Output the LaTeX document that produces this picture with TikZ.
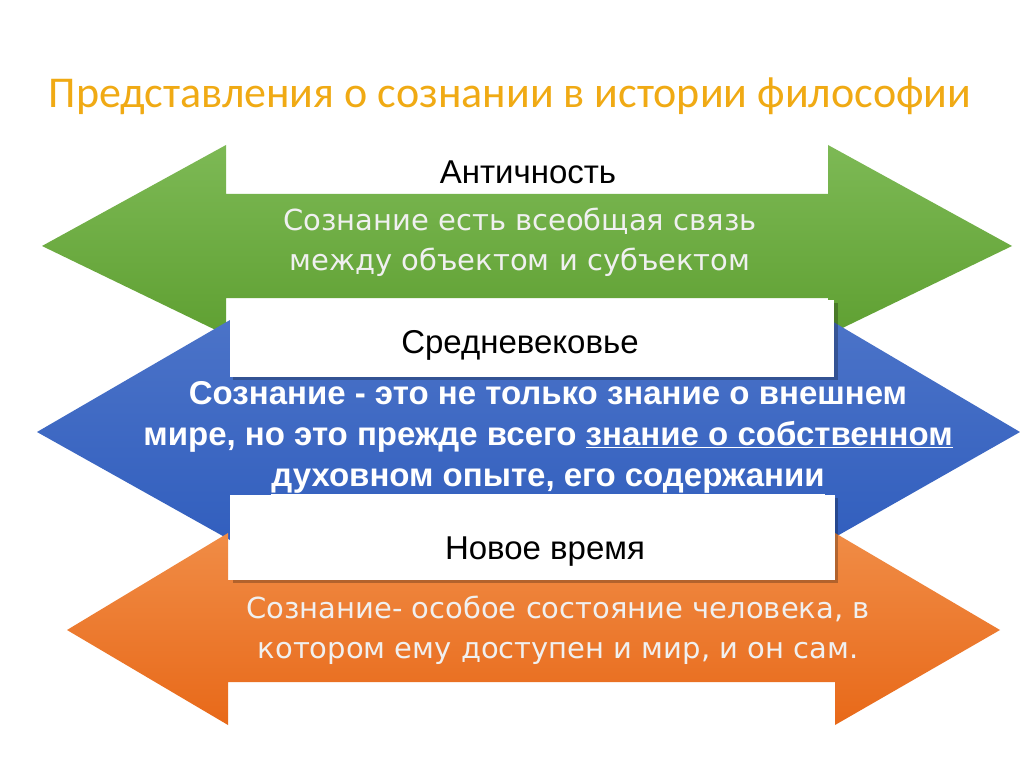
\documentclass[tikz,border=0pt]{standalone}
\usepackage{fontspec}
\setmainfont{Liberation Sans}
\newfontfamily\titlefont{Carlito}
\newfontfamily\dvfont{DejaVu Sans}
\begin{document}
\begin{tikzpicture}[x=1pt,y=-1pt,
  lbl/.style={font=\fontsize{33}{36}\selectfont, text=black},
  silver/.style={font=\dvfont\fontsize{29}{40}\selectfont, text=gray!12, align=center}]
\useasboundingbox (0,0) rectangle (1024,767);
\fill[white] (0,0) rectangle (1024,767);
\node[font=\titlefont\fontsize{44}{48}\selectfont, text={rgb,255:red,240;green,170;blue,20}] (title) at (510,96) {Представления о сознании в истории философии};
% green
\shade[top color={rgb,255:red,125;green,185;blue,85}, bottom color={rgb,255:red,95;green,160;blue,50}]
 (42,246) -- (226,145) -- (226,194) -- (828,194) -- (828,145) -- (1012,246) -- (828,335) -- (828,298) -- (226,298) -- (226,335) -- cycle;
\node[lbl] (a1) at (528,172) {Античность};
\node[silver] (t1) at (520,242) {Сознание есть всеобщая связь\\между объектом и субъектом};
% blue
\shade[top color={rgb,255:red,75;green,115;blue,200}, bottom color={rgb,255:red,50;green,95;blue,190}]
 (37,432) -- (230,320) -- (230,377) -- (830,377) -- (830,320) -- (1020,432) -- (830,540) -- (830,495) -- (230,495) -- (230,540) -- cycle;
\fill[black,opacity=0.25] (233,303) rectangle (838,380);
\fill[white] (230,300) rectangle (834,377);
\node[lbl] (a2) at (520,345) {Средневековье};
\node[font=\bfseries\fontsize{33}{41}\selectfont, text=white, align=center] (t2) at (548,438)
 {Сознание - это не только знание о внешнем\\мире, но это прежде всего \underline{знание о собственном}\\\underline{духовном опыте, его содержании}};
% orange
\shade[top color={rgb,255:red,240;green,140;blue,70}, bottom color={rgb,255:red,232;green,105;blue,25}]
 (67,630) -- (228,533) -- (228,580) -- (835,580) -- (835,533) -- (1000,630) -- (835,725) -- (835,682) -- (228,682) -- (228,725) -- cycle;
\fill[black,opacity=0.25] (233,498) rectangle (838,583);
\fill[white] (230,495) rectangle (835,580);
\node[lbl] (a3) at (545,552) {Новое время};
\node[silver] (t3) at (558,630) {Сознание- особое состояние человека, в\\котором ему доступен и мир, и он сам.};
\end{tikzpicture}
\end{document}
